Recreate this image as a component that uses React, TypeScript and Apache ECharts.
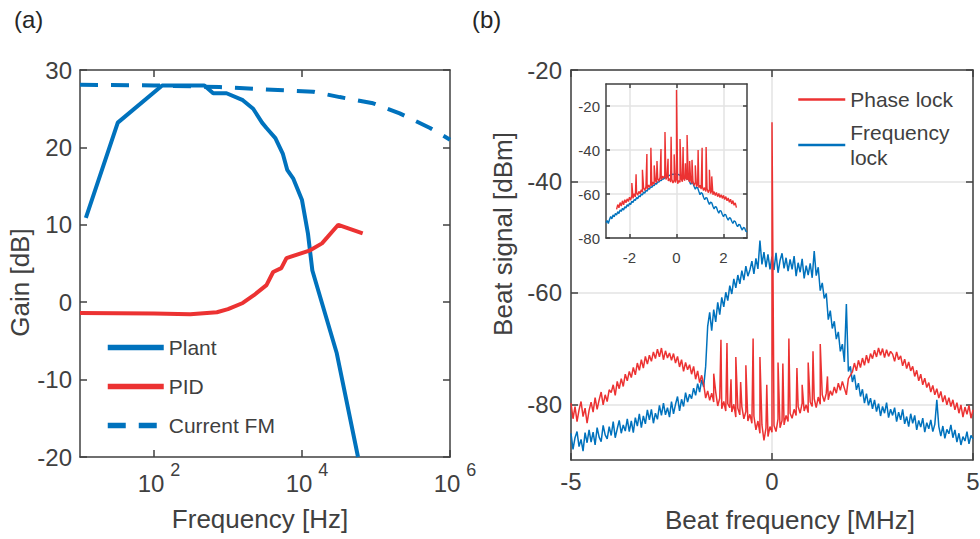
import React, { useEffect, useRef } from "react";
import * as echarts from "echarts";

// ---------- Panel (a): loop gains ----------
const PLANT_FREQ = [12.0, 32.4, 129, 479, 631, 955, 1585, 2188, 2884, 3311, 4365, 5495, 6310, 7586, 10000, 12023, 13804, 29512, 57148];
const PLANT_GAIN = [10.9, 23.2, 28.0, 28.0, 27.0, 27.0, 26.1, 25.0, 23.2, 22.5, 21.2, 19.2, 17.1, 16.0, 13.2, 8.9, 4.1, -6.6, -20.0];

const PID_FREQ = [10, 100, 309, 708, 1000, 1585, 2239, 3311, 4074, 5248, 6166, 12882, 18621, 30903, 66069];
const PID_GAIN = [-1.4, -1.45, -1.55, -1.3, -0.9, -0.1, 0.9, 2.2, 3.9, 4.4, 5.7, 6.7, 7.6, 10.0, 8.9];

const FM_FREQ = [10, 100, 776, 3162, 14125, 32359, 91201, 208930, 537032, 1000000];
const FM_GAIN = [28.1, 28.0, 27.8, 27.5, 27.2, 26.5, 25.7, 24.4, 22.5, 21.0];

const LOG_TICKS = [100, 10000, 1000000];
const LOG_TOP_TICKS = [100, 10000];
const GAIN_MIN = -20;
const GAIN_MAX = 30;

// ---------- Panel (b): beat spectra (x from -5 MHz, step 0.05 MHz) ----------
const BEAT_START = -5;
const BEAT_STEP = 0.05;
const FREQ_LOCK = [
  -85.2, -88.1, -86.0, -84.9, -87.6, -86.3, -88.4, -85.1, -86.9, -84.6,
  -86.8, -85.0, -87.3, -84.2, -85.9, -86.7, -83.8, -85.5, -86.2, -84.0,
  -85.6, -83.1, -86.0, -84.4, -82.9, -85.2, -83.7, -84.8, -82.6, -84.9,
  -83.0, -85.1, -82.4, -83.9, -81.7, -84.2, -82.1, -83.5, -81.0, -82.8,
  -80.9, -83.4, -81.6, -82.7, -80.2, -82.0, -79.8, -81.9, -80.6, -82.3,
  -79.5, -81.7, -80.0, -78.6, -81.2, -79.1, -80.4, -77.9, -79.6, -78.2,
  -79.0, -77.1, -78.4, -76.3, -77.8, -75.6, -76.9, -73.2, -66.0, -63.5,
  -66.8, -63.0, -65.2, -61.7, -63.9, -60.8, -62.5, -59.9, -61.4, -58.7,
  -60.2, -57.5, -59.1, -56.8, -58.4, -56.0, -57.7, -55.2, -57.0, -55.9,
  -54.3, -56.6, -53.8, -55.7, -50.6, -54.9, -52.7, -55.4, -53.1, -55.8,
  -53.5, -55.9, -52.8, -56.4, -54.2, -52.9, -55.6, -53.7, -56.1, -54.0,
  -55.8, -53.4, -57.0, -54.6, -56.3, -53.9, -57.4, -55.1, -56.8, -54.7,
  -57.3, -52.5, -56.9, -55.4, -59.6, -58.2, -61.0, -60.1, -64.8, -63.2,
  -66.4, -65.1, -68.3, -67.0, -70.5, -69.2, -72.4, -62.0, -74.1, -73.2,
  -76.0, -74.7, -77.4, -76.2, -78.6, -77.3, -79.8, -78.1, -80.2, -78.9,
  -80.8, -79.2, -81.3, -79.9, -82.1, -80.4, -81.6, -79.7, -82.4, -80.9,
  -82.0, -80.6, -83.1, -81.4, -82.8, -80.9, -83.5, -82.2, -84.0, -81.7,
  -83.4, -82.0, -84.6, -82.9, -84.1, -82.5, -85.0, -83.3, -84.4, -82.8,
  -84.9, -83.6, -79.2, -84.0, -85.7, -83.9, -86.1, -84.5, -85.3, -83.7,
  -86.0, -84.6, -86.8, -85.2, -87.3, -85.8, -86.6, -84.9, -87.1, -85.6,
  -86.2,
];
const PHASE_LOCK = [
  -79.8, -82.6, -80.4, -83.1, -81.0, -79.5, -82.2, -80.7, -83.4, -81.1,
  -79.6, -81.4, -78.8, -80.9, -79.2, -77.8, -80.1, -78.3, -79.5, -77.4,
  -77.9, -76.5, -78.4, -75.9, -77.2, -75.4, -76.8, -74.6, -75.8, -74.1,
  -75.2, -73.4, -74.7, -72.6, -73.9, -72.0, -73.5, -71.4, -72.8, -71.2,
  -72.3, -70.6, -71.8, -70.1, -71.5, -69.9, -72.0, -70.4, -71.7, -70.8,
  -72.1, -70.9, -72.6, -71.4, -73.3, -72.0, -74.1, -72.5, -73.8, -72.9,
  -74.6, -73.2, -75.5, -74.0, -76.1, -74.8, -76.4, -78.9, -77.6, -79.3,
  -78.0, -79.6, -77.8, -80.3, -78.9, -80.8, -79.5, -81.2, -79.9, -80.6,
  -81.4, -80.0, -82.3, -80.7, -81.9, -80.4, -82.6, -81.3, -83.0, -81.8,
  -83.4, -82.1, -84.6, -83.0, -85.2, -83.7, -86.5, -84.3, -85.8, -84.0,
  -85.0, -83.8, -84.9, -82.6, -84.2, -82.9, -83.7, -82.0, -83.1, -81.6,
  -82.5, -80.9, -82.0, -80.4, -81.6, -79.8, -81.2, -80.1, -81.5, -79.6,
  -80.4, -79.0, -80.6, -78.7, -80.0, -78.3, -79.5, -78.0, -79.2, -77.6,
  -78.4, -76.9, -78.0, -76.2, -77.5, -75.9, -77.1, -78.3, -75.4, -74.8,
  -74.2, -72.6, -74.0, -72.1, -73.4, -71.7, -73.0, -71.2, -72.6, -70.9,
  -71.8, -70.3, -71.5, -69.9, -71.2, -70.0, -71.6, -70.2, -71.4, -70.5,
  -71.0, -72.3, -70.6, -72.0, -71.3, -73.1, -71.9, -73.6, -72.4, -74.0,
  -73.2, -75.0, -73.9, -75.8, -74.6, -76.5, -75.3, -77.0, -76.1, -77.8,
  -76.6, -78.3, -77.2, -78.9, -77.7, -79.6, -78.4, -80.1, -78.8, -80.4,
  -79.2, -81.0, -79.7, -81.6, -80.1, -82.3, -80.5, -81.8, -80.2, -82.5,
  -81.0,
];
const PHASE_SPIKE_X = [-1.45, -1.27, -1.12, -1.02, -0.9, -0.78, -0.65, -0.47, -0.3, -0.13, 0, 0.15, 0.27, 0.42, 0.62, 0.75, 0.9, 1.02, 1.2, 1.38];
const PHASE_SPIKE_Y = [-74.5, -68.4, -69.0, -75.5, -71.5, -76.0, -73.0, -68.2, -71.5, -76.5, -29.4, -72.5, -72.7, -68.2, -73.5, -76.5, -72.5, -70.5, -69.2, -75.0];

const BEAT_X_TICKS = [-5, 0, 5];
const BEAT_Y_TICKS = [-80, -60, -40, -20];

// ---------- Inset ----------
const INSET_START = -3;
const INSET_STEP = 0.05;
const INSET_FREQ_LOCK = [
  -73.0, -72.1, -73.4, -71.6, -70.2, -71.3, -69.5, -70.4, -68.8, -69.6,
  -68.0, -68.9, -67.2, -67.9, -66.5, -67.3, -65.8, -66.4, -64.9, -65.6,
  -64.2, -64.8, -63.3, -63.9, -62.5, -63.0, -61.6, -62.2, -60.8, -61.3,
  -60.0, -60.5, -59.1, -59.6, -58.3, -58.7, -57.5, -57.8, -56.7, -57.0,
  -56.0, -56.2, -55.2, -55.5, -54.5, -54.6, -53.8, -53.9, -53.1, -53.2,
  -52.6, -52.4, -52.0, -51.8, -51.5, -51.3, -51.2, -51.0, -51.1, -50.9,
  -51.0, -51.3, -51.1, -51.6, -51.5, -52.0, -51.9, -52.5, -52.6, -53.2,
  -53.0, -54.2, -55.6, -54.9, -55.1, -56.6, -57.8, -56.9, -57.2, -58.8,
  -60.3, -59.4, -59.8, -61.5, -62.6, -61.6, -61.9, -63.6, -64.7, -63.7,
  -64.0, -65.6, -66.8, -65.7, -66.0, -67.6, -68.7, -67.5, -67.8, -69.3,
  -70.3, -69.2, -69.5, -70.9, -71.9, -70.8, -71.0, -72.4, -73.4, -72.2,
  -72.5, -73.9, -74.9, -73.8, -74.0, -75.4, -76.4, -75.2, -75.5, -76.9,
  -77.2,
];
const INSET_PHASE_START = -2.55;
const INSET_PHASE_LOCK = [
  -67.0, -64.8, -66.3, -63.9, -65.5, -63.1, -64.9, -62.6, -64.0, -62.2,
  -63.4, -61.5, -62.8, -60.7, -62.0, -59.9, -61.3, -59.4, -60.5, -58.8,
  -59.9, -58.0, -59.2, -57.3, -58.4, -56.6, -57.8, -55.9, -57.0, -55.4,
  -56.3, -54.5, -55.6, -53.8, -54.9, -53.0, -54.2, -52.4, -53.5, -51.9,
  -52.8, -51.6, -53.4, -52.2, -54.1, -52.9, -54.6, -53.3, -55.0, -53.7,
  -54.8, -53.2, -55.3, -53.9, -54.7, -53.1, -54.4, -52.8, -53.9, -52.5,
  -53.6, -52.9, -54.5, -53.4, -55.2, -54.0, -56.1, -54.8, -56.7, -55.6,
  -57.2, -56.0, -57.8, -56.6, -58.4, -57.1, -58.9, -57.5, -59.4, -58.0,
  -59.8, -58.4, -60.3, -58.9, -60.7, -59.3, -61.2, -59.8, -61.6, -60.3,
  -62.0, -60.6, -62.5, -61.2, -63.1, -61.8, -63.8, -62.4, -64.5, -63.0,
  -65.1, -64.0, -66.2,
];
const INSET_SPIKE_X = [-1.9, -1.72, -1.45, -1.26, -1.09, -0.95, -0.83, -0.66, -0.49, -0.36, -0.23, -0.1, 0, 0.15, 0.28, 0.38, 0.45, 0.56, 0.66, 0.8, 0.92, 1.09, 1.26, 1.4, 1.5];
const INSET_SPIKE_Y = [-55, -51, -49, -41.8, -39, -47, -45, -39.5, -31.8, -44, -34, -42, -12.7, -35, -38.6, -46, -33.2, -45, -44.5, -47, -40, -39, -38.6, -49, -52];
const INSET_X_TICKS = [-2, 0, 2];
const INSET_Y_TICKS = [-80, -60, -40, -20];

// ---------- style ----------
const BLUE = "#0072BD";
const RED = "#EC3232";
const AX = "#404040";
const TXT = "#404040";
const FONT = "Liberation Sans, Arial, Helvetica, sans-serif";
const GRIDLINE = "#e3e3e3";

function onGrid(start: number, step: number, vals: number[]) {
  return vals.map((v, i) => [Number((start + i * step).toFixed(3)), v]);
}
function withSpikes(base: number[][], sx: number[], sy: number[]) {
  const all = base.concat(sx.map((x, i) => [x, sy[i]]));
  return all.sort((a, b) => a[0] - b[0]);
}
function pairs(xs: number[], ys: number[]) {
  return xs.map((x, i) => [x, ys[i]]);
}

function boxAxis(extra: any) {
  return {
    axisLine: { show: true, onZero: false, lineStyle: { color: AX, width: 1.5 } },
    axisTick: { show: true, inside: true, length: 7, lineStyle: { color: AX, width: 1.5 } },
    splitLine: { show: false },
    minorTick: { show: false },
    minorSplitLine: { show: false },
    ...extra,
  };
}

export default function App() {
  const ref = useRef<HTMLDivElement>(null);
  useEffect(() => {
    if (!ref.current) return;
    const chart = echarts.init(ref.current, null, { renderer: "svg" });
    const labelStyle = { color: TXT, fontSize: 24, fontFamily: FONT };
    const nameStyle = { color: TXT, fontSize: 26, fontFamily: FONT };
    const insetLabel = { color: TXT, fontSize: 15, fontFamily: FONT };

    const option: any = {
      animation: false,
      textStyle: { fontFamily: FONT },
      grid: [
        { left: 80, top: 70, width: 370, height: 387, outerBoundsMode: "none" },
        { left: 571, top: 70, width: 402, height: 390, outerBoundsMode: "none" },
        { left: 606, top: 84, width: 141, height: 154, show: true, backgroundColor: "#ffffff", borderWidth: 0, z: 5, outerBoundsMode: "none" },
      ],
      graphic: [
        { type: "text", left: 14, top: 7, style: { text: "(a)", fontSize: 24, fill: "#262626", fontFamily: FONT } },
        { type: "text", left: 472, top: 7, style: { text: "(b)", fontSize: 24, fill: "#262626", fontFamily: FONT } },
      ],
      legend: [
        {
          data: ["Plant", "PID", "Current FM"],
          orient: "vertical",
          left: 100,
          top: 332,
          padding: 5,
          itemWidth: 56,
          itemHeight: 14,
          itemGap: 18,
          selectedMode: false,
          itemStyle: { opacity: 0 },
          lineStyle: { width: 5.5 },
          textStyle: { color: TXT, fontSize: 21, fontFamily: FONT },
        },
        {
          data: ["Phase lock", "Frequency lock"],
          orient: "vertical",
          left: 792,
          top: 82,
          padding: 5,
          itemWidth: 47,
          itemHeight: 14,
          itemGap: 8,
          selectedMode: false,
          itemStyle: { opacity: 0 },
          lineStyle: { width: 2.5 },
          formatter: (n: string) => (n === "Frequency lock" ? "Frequency\nlock" : n),
          textStyle: { color: TXT, fontSize: 21, lineHeight: 25, fontFamily: FONT },
        },
      ],
      xAxis: [
        boxAxis({
          type: "log", logBase: 10, gridIndex: 0, min: 10, max: 1000000, position: "bottom",
          axisTick: { show: true, inside: true, length: 7, customValues: LOG_TICKS, lineStyle: { color: AX, width: 1.5 } },
          axisLabel: {
            customValues: LOG_TICKS,
            margin: 4,
            formatter: (v: number) => `{b|10}{s|${Math.round(Math.log10(v))}}`,
            rich: {
              b: { fontSize: 24, color: TXT, fontFamily: FONT, padding: [10, 0, 0, 10], verticalAlign: "bottom" },
              s: { fontSize: 18, color: TXT, fontFamily: FONT, verticalAlign: "top", padding: [0, 0, 0, 6] },
            },
          },
          name: "Frequency [Hz]", nameLocation: "middle", nameGap: 49,
          nameTextStyle: { ...nameStyle, padding: [0, 10, 0, 0] },
        }),
        boxAxis({
          type: "log", logBase: 10, gridIndex: 0, min: 10, max: 1000000, position: "top",
          axisTick: { show: true, inside: true, length: 7, customValues: LOG_TOP_TICKS, lineStyle: { color: AX, width: 1.5 } },
          axisLabel: { show: false },
        }),
        boxAxis({
          type: "value", gridIndex: 1, min: -5, max: 5, position: "bottom",
          axisTick: { show: true, inside: true, length: 7, customValues: BEAT_X_TICKS, lineStyle: { color: AX, width: 1.5 } },
          axisLabel: { customValues: BEAT_X_TICKS, margin: 9, ...labelStyle },
          splitLine: { show: true, lineStyle: { color: GRIDLINE, width: 1.5 } },
          name: "Beat frequency [MHz]", nameLocation: "middle", nameGap: 47,
          nameTextStyle: { ...nameStyle, padding: [0, 0, 0, 36] },
        }),
        boxAxis({
          type: "value", gridIndex: 1, min: -5, max: 5, position: "top",
          axisTick: { show: true, inside: true, length: 7, customValues: BEAT_X_TICKS, lineStyle: { color: AX, width: 1.5 } },
          axisLabel: { show: false },
        }),
        boxAxis({
          type: "value", gridIndex: 2, min: -3, max: 3, position: "bottom", z: 6,
          axisTick: { show: true, inside: true, length: 4, customValues: INSET_X_TICKS, lineStyle: { color: AX, width: 1.5 } },
          axisLabel: { customValues: INSET_X_TICKS, margin: 12, ...insetLabel },
          splitLine: { show: true, lineStyle: { color: GRIDLINE, width: 1.5 } },
        }),
        boxAxis({
          type: "value", gridIndex: 2, min: -3, max: 3, position: "top", z: 6,
          axisTick: { show: true, inside: true, length: 4, customValues: INSET_X_TICKS, lineStyle: { color: AX, width: 1.5 } },
          axisLabel: { show: false },
        }),
      ],
      yAxis: [
        boxAxis({
          type: "value", gridIndex: 0, min: GAIN_MIN, max: GAIN_MAX, interval: 10, position: "left",
          axisLabel: { margin: 8, ...labelStyle },
          name: "Gain [dB]", nameLocation: "middle", nameGap: 43,
          nameTextStyle: { ...nameStyle, padding: [0, 38, 0, 0] },
        }),
        boxAxis({
          type: "value", gridIndex: 0, min: GAIN_MIN, max: GAIN_MAX, interval: 10, position: "right",
          axisLabel: { show: false },
        }),
        boxAxis({
          type: "value", gridIndex: 1, min: -90, max: -20, position: "left",
          axisTick: { show: true, inside: true, length: 7, customValues: BEAT_Y_TICKS, lineStyle: { color: AX, width: 1.5 } },
          axisLabel: { customValues: BEAT_Y_TICKS, margin: 9, ...labelStyle },
          splitLine: { show: true, lineStyle: { color: GRIDLINE, width: 1.5 } },
          name: "Beat signal [dBm]", nameLocation: "middle", nameGap: 55,
          nameTextStyle: { ...nameStyle, padding: [0, 0, 0, 62] },
        }),
        boxAxis({
          type: "value", gridIndex: 1, min: -90, max: -20, position: "right",
          axisTick: { show: true, inside: true, length: 7, customValues: BEAT_Y_TICKS, lineStyle: { color: AX, width: 1.5 } },
          axisLabel: { show: false },
        }),
        boxAxis({
          type: "value", gridIndex: 2, min: -80, max: -10, position: "left", z: 6,
          axisTick: { show: true, inside: true, length: 4, customValues: INSET_Y_TICKS, lineStyle: { color: AX, width: 1.5 } },
          axisLabel: { customValues: INSET_Y_TICKS, margin: 6, ...insetLabel },
          splitLine: { show: true, lineStyle: { color: GRIDLINE, width: 1.5 } },
        }),
        boxAxis({
          type: "value", gridIndex: 2, min: -80, max: -10, position: "right", z: 6,
          axisTick: { show: true, inside: true, length: 4, customValues: INSET_Y_TICKS, lineStyle: { color: AX, width: 1.5 } },
          axisLabel: { show: false },
        }),
      ],
      series: [
        {
          type: "line", name: "Plant", xAxisIndex: 0, yAxisIndex: 0, symbol: "none",
          data: pairs(PLANT_FREQ, PLANT_GAIN),
          lineStyle: { color: BLUE, width: 4 }, itemStyle: { color: BLUE },
        },
        {
          type: "line", name: "PID", xAxisIndex: 0, yAxisIndex: 0, symbol: "none",
          data: pairs(PID_FREQ, PID_GAIN),
          lineStyle: { color: RED, width: 4 }, itemStyle: { color: RED },
        },
        {
          type: "line", name: "Current FM", xAxisIndex: 0, yAxisIndex: 0, symbol: "none",
          data: pairs(FM_FREQ, FM_GAIN),
          lineStyle: { color: BLUE, width: 4, type: [18, 13] }, itemStyle: { color: BLUE },
        },
        {
          type: "line", name: "Frequency lock", xAxisIndex: 2, yAxisIndex: 2, symbol: "none",
          data: onGrid(BEAT_START, BEAT_STEP, FREQ_LOCK),
          lineStyle: { color: BLUE, width: 1.5 }, itemStyle: { color: BLUE },
        },
        {
          type: "line", name: "Phase lock", xAxisIndex: 2, yAxisIndex: 2, symbol: "none",
          data: withSpikes(onGrid(BEAT_START, BEAT_STEP, PHASE_LOCK), PHASE_SPIKE_X, PHASE_SPIKE_Y),
          lineStyle: { color: RED, width: 1.5 }, itemStyle: { color: RED },
        },
        {
          type: "line", name: "Frequency lock (inset)", xAxisIndex: 4, yAxisIndex: 4, symbol: "none", z: 7,
          data: onGrid(INSET_START, INSET_STEP, INSET_FREQ_LOCK),
          lineStyle: { color: BLUE, width: 1.4 }, itemStyle: { color: BLUE },
        },
        {
          type: "line", name: "Phase lock (inset)", xAxisIndex: 4, yAxisIndex: 4, symbol: "none", z: 8,
          data: withSpikes(onGrid(INSET_PHASE_START, INSET_STEP, INSET_PHASE_LOCK), INSET_SPIKE_X, INSET_SPIKE_Y),
          lineStyle: { color: RED, width: 1.4 }, itemStyle: { color: RED },
        },
      ],
    };
    chart.setOption(option);
    return () => chart.dispose();
  }, []);
  return <div ref={ref} style={{ width: 980, height: 539, position: "absolute", left: 0, top: 0 }} />;
}
